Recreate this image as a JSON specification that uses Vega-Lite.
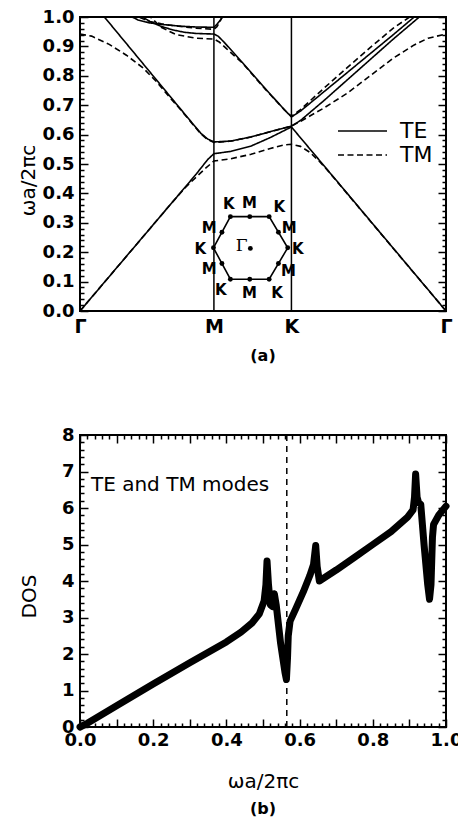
{
  "$schema": "https://vega.github.io/schema/vega-lite/v6.json",
  "padding": {"left": 17, "top": 7, "right": 0, "bottom": 0},
  "spacing": 60,
  "config": {
    "font": "DejaVu Sans",
    "view": {"stroke": "black", "strokeWidth": 2},
    "axis": {"grid": false, "labelFont": "DejaVu Sans", "labelFontWeight": "bold", "labelFontSize": 18, "labelColor": "black", "titleFont": "DejaVu Sans", "titleFontWeight": "normal", "titleFontSize": 20, "titleColor": "black", "labelFlush": false},
    "title": {"font": "DejaVu Sans", "fontWeight": "bold", "fontSize": 16, "color": "black"}
  },
  "vconcat": [
    {
      "width": 366, "height": 294,
      "title": {"text": "(a)", "orient": "bottom", "offset": 12},
      "layer": [
        {
          "encoding": {
            "x": {"field": "x", "type": "quantitative", "scale": {"domain": [0, 1.577], "nice": false, "zero": false},
              "axis": {"values": [0, 0.577, 0.911, 1.577], "labelExpr": "datum.value < 0.3 || datum.value > 1.5 ? 'Γ' : (datum.value < 0.7 ? 'M' : 'K')", "ticks": false, "domain": false, "title": null, "labelPadding": 6, "labelFontSize": 19}},
            "y": {"field": "y", "type": "quantitative", "scale": {"domain": [0, 1], "nice": false, "zero": false},
              "axis": {"values": [0,0.1,0.2,0.3,0.4,0.5,0.6,0.7,0.8,0.9,1], "format": ".1f", "ticks": false, "domain": false,
                "labelPadding": 6, "title": "ωa/2πc", "titleX": -52, "titleY": 163, "titleBaseline": "middle"}}
          },
          "layer": [
            {
              "data": {"values": [{"x": 0.577, "y": 0, "y2": 1}, {"x": 0.911, "y": 0, "y2": 1}]},
              "mark": {"type": "rule", "color": "black", "strokeWidth": 1.5},
              "encoding": {"y2": {"field": "y2"}}
            },
            {
              "data": {"values": [
                {"b": "te1", "m": "TE", "x": 0, "y": 0}, {"b": "te1", "m": "TE", "x": 0.5, "y": 0.465}, {"b": "te1", "m": "TE", "x": 0.55, "y": 0.515}, {"b": "te1", "m": "TE", "x": 0.577, "y": 0.535}, {"b": "te1", "m": "TE", "x": 0.65, "y": 0.543}, {"b": "te1", "m": "TE", "x": 0.737, "y": 0.561}, {"b": "te1", "m": "TE", "x": 0.82, "y": 0.59}, {"b": "te1", "m": "TE", "x": 0.911, "y": 0.626}, {"b": "te1", "m": "TE", "x": 1.577, "y": 0},
                {"b": "te2", "m": "TE", "x": 0.08, "y": 1.024}, {"b": "te2", "m": "TE", "x": 0.47, "y": 0.652}, {"b": "te2", "m": "TE", "x": 0.52, "y": 0.605}, {"b": "te2", "m": "TE", "x": 0.55, "y": 0.585}, {"b": "te2", "m": "TE", "x": 0.577, "y": 0.575}, {"b": "te2", "m": "TE", "x": 0.65, "y": 0.578}, {"b": "te2", "m": "TE", "x": 0.737, "y": 0.592}, {"b": "te2", "m": "TE", "x": 0.82, "y": 0.61}, {"b": "te2", "m": "TE", "x": 0.911, "y": 0.629}, {"b": "te2", "m": "TE", "x": 0.95, "y": 0.648}, {"b": "te2", "m": "TE", "x": 1.05, "y": 0.715}, {"b": "te2", "m": "TE", "x": 1.15, "y": 0.785}, {"b": "te2", "m": "TE", "x": 1.25, "y": 0.855}, {"b": "te2", "m": "TE", "x": 1.35, "y": 0.925}, {"b": "te2", "m": "TE", "x": 1.462, "y": 1.0}, {"b": "te2", "m": "TE", "x": 1.49, "y": 1.02},
                {"b": "te3", "m": "TE", "x": 0.25, "y": 1.01}, {"b": "te3", "m": "TE", "x": 0.3, "y": 0.985}, {"b": "te3", "m": "TE", "x": 0.35, "y": 0.968}, {"b": "te3", "m": "TE", "x": 0.4, "y": 0.956}, {"b": "te3", "m": "TE", "x": 0.45, "y": 0.948}, {"b": "te3", "m": "TE", "x": 0.5, "y": 0.944}, {"b": "te3", "m": "TE", "x": 0.577, "y": 0.942}, {"b": "te3", "m": "TE", "x": 0.595, "y": 0.935}, {"b": "te3", "m": "TE", "x": 0.62, "y": 0.915}, {"b": "te3", "m": "TE", "x": 0.7, "y": 0.845}, {"b": "te3", "m": "TE", "x": 0.8, "y": 0.755}, {"b": "te3", "m": "TE", "x": 0.88, "y": 0.685}, {"b": "te3", "m": "TE", "x": 0.911, "y": 0.66}, {"b": "te3", "m": "TE", "x": 0.95, "y": 0.68}, {"b": "te3", "m": "TE", "x": 1.05, "y": 0.745}, {"b": "te3", "m": "TE", "x": 1.15, "y": 0.81}, {"b": "te3", "m": "TE", "x": 1.25, "y": 0.875}, {"b": "te3", "m": "TE", "x": 1.35, "y": 0.94}, {"b": "te3", "m": "TE", "x": 1.44, "y": 1.0}, {"b": "te3", "m": "TE", "x": 1.47, "y": 1.02},
                {"b": "te4", "m": "TE", "x": 0.2, "y": 1.01}, {"b": "te4", "m": "TE", "x": 0.25, "y": 0.99}, {"b": "te4", "m": "TE", "x": 0.3, "y": 0.98}, {"b": "te4", "m": "TE", "x": 0.35, "y": 0.975}, {"b": "te4", "m": "TE", "x": 0.4, "y": 0.971}, {"b": "te4", "m": "TE", "x": 0.45, "y": 0.968}, {"b": "te4", "m": "TE", "x": 0.5, "y": 0.966}, {"b": "te4", "m": "TE", "x": 0.577, "y": 0.965}, {"b": "te4", "m": "TE", "x": 0.59, "y": 0.975}, {"b": "te4", "m": "TE", "x": 0.6, "y": 0.985}, {"b": "te4", "m": "TE", "x": 0.615, "y": 1.0}, {"b": "te4", "m": "TE", "x": 0.625, "y": 1.01},
                {"b": "tm1", "m": "TM", "x": 0, "y": 0}, {"b": "tm1", "m": "TM", "x": 0.4, "y": 0.372}, {"b": "tm1", "m": "TM", "x": 0.46, "y": 0.425}, {"b": "tm1", "m": "TM", "x": 0.5, "y": 0.455}, {"b": "tm1", "m": "TM", "x": 0.54, "y": 0.485}, {"b": "tm1", "m": "TM", "x": 0.577, "y": 0.51}, {"b": "tm1", "m": "TM", "x": 0.65, "y": 0.518}, {"b": "tm1", "m": "TM", "x": 0.737, "y": 0.533}, {"b": "tm1", "m": "TM", "x": 0.82, "y": 0.553}, {"b": "tm1", "m": "TM", "x": 0.88, "y": 0.565}, {"b": "tm1", "m": "TM", "x": 0.911, "y": 0.567}, {"b": "tm1", "m": "TM", "x": 0.95, "y": 0.56}, {"b": "tm1", "m": "TM", "x": 0.99, "y": 0.54}, {"b": "tm1", "m": "TM", "x": 1.03, "y": 0.51}, {"b": "tm1", "m": "TM", "x": 1.067, "y": 0.478}, {"b": "tm1", "m": "TM", "x": 1.577, "y": 0},
                {"b": "tm2", "m": "TM", "x": 0, "y": 0.942}, {"b": "tm2", "m": "TM", "x": 0.05, "y": 0.935}, {"b": "tm2", "m": "TM", "x": 0.126, "y": 0.907}, {"b": "tm2", "m": "TM", "x": 0.2, "y": 0.87}, {"b": "tm2", "m": "TM", "x": 0.27, "y": 0.828}, {"b": "tm2", "m": "TM", "x": 0.33, "y": 0.78}, {"b": "tm2", "m": "TM", "x": 0.385, "y": 0.728}, {"b": "tm2", "m": "TM", "x": 0.43, "y": 0.688}, {"b": "tm2", "m": "TM", "x": 0.47, "y": 0.65}, {"b": "tm2", "m": "TM", "x": 0.52, "y": 0.603}, {"b": "tm2", "m": "TM", "x": 0.55, "y": 0.583}, {"b": "tm2", "m": "TM", "x": 0.577, "y": 0.573}, {"b": "tm2", "m": "TM", "x": 0.65, "y": 0.578}, {"b": "tm2", "m": "TM", "x": 0.737, "y": 0.592}, {"b": "tm2", "m": "TM", "x": 0.82, "y": 0.61}, {"b": "tm2", "m": "TM", "x": 0.911, "y": 0.629}, {"b": "tm2", "m": "TM", "x": 0.95, "y": 0.645}, {"b": "tm2", "m": "TM", "x": 1.05, "y": 0.69}, {"b": "tm2", "m": "TM", "x": 1.15, "y": 0.74}, {"b": "tm2", "m": "TM", "x": 1.25, "y": 0.8}, {"b": "tm2", "m": "TM", "x": 1.35, "y": 0.86}, {"b": "tm2", "m": "TM", "x": 1.44, "y": 0.905}, {"b": "tm2", "m": "TM", "x": 1.5, "y": 0.928}, {"b": "tm2", "m": "TM", "x": 1.577, "y": 0.942},
                {"b": "tm3", "m": "TM", "x": 0.29, "y": 1.01}, {"b": "tm3", "m": "TM", "x": 0.35, "y": 0.965}, {"b": "tm3", "m": "TM", "x": 0.414, "y": 0.94}, {"b": "tm3", "m": "TM", "x": 0.5, "y": 0.928}, {"b": "tm3", "m": "TM", "x": 0.577, "y": 0.925}, {"b": "tm3", "m": "TM", "x": 0.6, "y": 0.915}, {"b": "tm3", "m": "TM", "x": 0.63, "y": 0.893}, {"b": "tm3", "m": "TM", "x": 0.7, "y": 0.843}, {"b": "tm3", "m": "TM", "x": 0.8, "y": 0.753}, {"b": "tm3", "m": "TM", "x": 0.88, "y": 0.685}, {"b": "tm3", "m": "TM", "x": 0.911, "y": 0.662}, {"b": "tm3", "m": "TM", "x": 0.95, "y": 0.685}, {"b": "tm3", "m": "TM", "x": 1.05, "y": 0.757}, {"b": "tm3", "m": "TM", "x": 1.15, "y": 0.827}, {"b": "tm3", "m": "TM", "x": 1.25, "y": 0.896}, {"b": "tm3", "m": "TM", "x": 1.35, "y": 0.962}, {"b": "tm3", "m": "TM", "x": 1.42, "y": 1.0}, {"b": "tm3", "m": "TM", "x": 1.45, "y": 1.02},
                {"b": "tm4", "m": "TM", "x": 0.22, "y": 1.01}, {"b": "tm4", "m": "TM", "x": 0.3, "y": 0.985}, {"b": "tm4", "m": "TM", "x": 0.35, "y": 0.977}, {"b": "tm4", "m": "TM", "x": 0.4, "y": 0.971}, {"b": "tm4", "m": "TM", "x": 0.45, "y": 0.966}, {"b": "tm4", "m": "TM", "x": 0.5, "y": 0.962}, {"b": "tm4", "m": "TM", "x": 0.577, "y": 0.958}, {"b": "tm4", "m": "TM", "x": 0.59, "y": 0.967}, {"b": "tm4", "m": "TM", "x": 0.6, "y": 0.98}, {"b": "tm4", "m": "TM", "x": 0.612, "y": 1.0}, {"b": "tm4", "m": "TM", "x": 0.62, "y": 1.01}
              ]},
              "mark": {"type": "line", "color": "black", "strokeWidth": 1.6, "clip": true},
              "encoding": {
                "detail": {"field": "b", "type": "nominal"},
                "strokeDash": {"field": "m", "type": "nominal", "scale": {"domain": ["TE", "TM"], "range": [[1, 0], [6, 3.5]]},
                  "legend": {"orient": "none", "legendX": 257, "legendY": 102, "title": null, "symbolType": "stroke", "symbolSize": 2400, "symbolStrokeWidth": 1.6, "symbolStrokeColor": "black", "labelFont": "DejaVu Sans", "labelFontSize": 22, "labelFontWeight": "normal", "labelColor": "black", "labelOffset": 12, "clipHeight": 24, "rowPadding": 0}}
              }
            },
            {
              "data": {"values": [
                {"o": 0, "x": 0.575, "y": 0.215}, {"o": 1, "x": 0.648, "y": 0.321}, {"o": 2, "x": 0.815, "y": 0.321}, {"o": 3, "x": 0.895, "y": 0.215}, {"o": 4, "x": 0.815, "y": 0.108}, {"o": 5, "x": 0.648, "y": 0.108}, {"o": 6, "x": 0.575, "y": 0.215}
              ]},
              "mark": {"type": "line", "color": "black", "strokeWidth": 1.6},
              "encoding": {"order": {"field": "o", "type": "quantitative"}}
            },
            {
              "data": {"values": [
                {"x": 0.575, "y": 0.215}, {"x": 0.648, "y": 0.321}, {"x": 0.815, "y": 0.321}, {"x": 0.895, "y": 0.215}, {"x": 0.815, "y": 0.108}, {"x": 0.648, "y": 0.108},
                {"x": 0.7315, "y": 0.321}, {"x": 0.7315, "y": 0.108}, {"x": 0.855, "y": 0.268}, {"x": 0.855, "y": 0.1615}, {"x": 0.6115, "y": 0.268}, {"x": 0.6115, "y": 0.1615},
                {"x": 0.734, "y": 0.213}
              ]},
              "mark": {"type": "point", "filled": true, "color": "black", "size": 24, "opacity": 1}
            },
            {
              "data": {"values": [
                {"t": "K", "x": 0.641, "y": 0.363}, {"t": "M", "x": 0.73, "y": 0.368}, {"t": "K", "x": 0.859, "y": 0.354}, {"t": "M", "x": 0.902, "y": 0.283}, {"t": "K", "x": 0.938, "y": 0.21}, {"t": "M", "x": 0.898, "y": 0.136},
                {"t": "K", "x": 0.849, "y": 0.062}, {"t": "M", "x": 0.73, "y": 0.062}, {"t": "K", "x": 0.607, "y": 0.073}, {"t": "M", "x": 0.557, "y": 0.142}, {"t": "K", "x": 0.518, "y": 0.21}, {"t": "M", "x": 0.557, "y": 0.283}
              ]},
              "mark": {"type": "text", "font": "DejaVu Sans", "fontWeight": "bold", "fontSize": 15, "color": "black", "baseline": "middle", "align": "center"},
              "encoding": {"text": {"field": "t"}}
            },
            {
              "data": {"values": [{"t": "Γ", "x": 0.697, "y": 0.22}]},
              "mark": {"type": "text", "font": "DejaVu Serif", "fontSize": 17, "color": "black", "baseline": "middle", "align": "center"},
              "encoding": {"text": {"field": "t"}}
            }
          ]
        },
        {
          "data": {"values": [{"y": 0}, {"y": 1}]},
          "mark": {"type": "point", "opacity": 0},
          "encoding": {
            "y": {"field": "y", "type": "quantitative", "scale": {"domain": [0, 1], "nice": false, "zero": false},
              "axis": {"orient": "right", "offset": -366, "labels": false, "title": null, "domain": false, "ticks": true, "tickColor": "black", "tickWidth": 1.5, "values": [0,0.02,0.04,0.06,0.08,0.1,0.12,0.14,0.16,0.18,0.2,0.22,0.24,0.26,0.28,0.3,0.32,0.34,0.36,0.38,0.4,0.42,0.44,0.46,0.48,0.5,0.52,0.54,0.56,0.58,0.6,0.62,0.64,0.66,0.68,0.7,0.72,0.74,0.76,0.78,0.8,0.82,0.84,0.86,0.88,0.9,0.92,0.94,0.96,0.98,1],
                "tickSize": {"condition": {"test": "abs(datum.value*10 - round(datum.value*10)) < 0.01", "value": 8}, "value": 4}}}
          }
        },
        {
          "data": {"values": [{"y": 0}, {"y": 1}]},
          "mark": {"type": "point", "opacity": 0},
          "encoding": {
            "y": {"field": "y", "type": "quantitative", "scale": {"domain": [0, 1], "nice": false, "zero": false},
              "axis": {"orient": "left", "offset": -366, "labels": false, "title": null, "domain": false, "ticks": true, "tickColor": "black", "tickWidth": 1.5, "values": [0,0.02,0.04,0.06,0.08,0.1,0.12,0.14,0.16,0.18,0.2,0.22,0.24,0.26,0.28,0.3,0.32,0.34,0.36,0.38,0.4,0.42,0.44,0.46,0.48,0.5,0.52,0.54,0.56,0.58,0.6,0.62,0.64,0.66,0.68,0.7,0.72,0.74,0.76,0.78,0.8,0.82,0.84,0.86,0.88,0.9,0.92,0.94,0.96,0.98,1],
                "tickSize": {"condition": {"test": "abs(datum.value*10 - round(datum.value*10)) < 0.01", "value": 8}, "value": 4}}}
          }
        }
      ],
      "resolve": {"axis": {"y": "independent"}}
    },
    {
      "width": 366, "height": 292,
      "title": {"text": "(b)", "orient": "bottom", "offset": 10},
      "layer": [
        {
          "encoding": {
            "x": {"field": "x", "type": "quantitative", "scale": {"domain": [0, 1], "nice": false, "zero": false},
              "axis": {"values": [0,0.2,0.4,0.6,0.8,1], "format": ".1f", "ticks": false, "domain": false,
                "labelPadding": 4, "title": "ωa/2πc", "titlePadding": 22}},
            "y": {"field": "y", "type": "quantitative", "scale": {"domain": [0, 8], "nice": false, "zero": false},
              "axis": {"values": [0,1,2,3,4,5,6,7,8], "format": "d", "ticks": false, "domain": false,
                "labelPadding": 6, "title": "DOS", "titleX": -51, "titleY": 161, "titleBaseline": "middle"}}
          },
          "layer": [
            {
              "data": {"values": [{"x": 0.565, "y": 0, "y2": 8}]},
              "mark": {"type": "rule", "color": "black", "strokeWidth": 1.5, "strokeDash": [6, 5]},
              "encoding": {"y2": {"field": "y2"}}
            },
            {
              "data": {"values": [
                {"x": 0, "y": 0}, {"x": 0.02, "y": 0.1}, {"x": 0.1, "y": 0.58}, {"x": 0.2, "y": 1.18}, {"x": 0.3, "y": 1.76}, {"x": 0.4, "y": 2.33}, {"x": 0.44, "y": 2.6}, {"x": 0.47, "y": 2.85}, {"x": 0.49, "y": 3.1}, {"x": 0.503, "y": 3.45}, {"x": 0.508, "y": 3.9}, {"x": 0.511, "y": 4.55}, {"x": 0.515, "y": 3.9}, {"x": 0.52, "y": 3.35}, {"x": 0.526, "y": 3.3}, {"x": 0.531, "y": 3.65}, {"x": 0.536, "y": 3.35}, {"x": 0.548, "y": 2.3}, {"x": 0.56, "y": 1.5}, {"x": 0.564, "y": 1.3}, {"x": 0.567, "y": 1.9}, {"x": 0.569, "y": 2.5}, {"x": 0.574, "y": 2.9}, {"x": 0.59, "y": 3.25}, {"x": 0.61, "y": 3.7}, {"x": 0.628, "y": 4.15}, {"x": 0.638, "y": 4.45}, {"x": 0.644, "y": 4.97}, {"x": 0.648, "y": 4.4}, {"x": 0.654, "y": 4.0}, {"x": 0.7, "y": 4.3}, {"x": 0.75, "y": 4.65}, {"x": 0.8, "y": 5.0}, {"x": 0.85, "y": 5.35}, {"x": 0.895, "y": 5.75}, {"x": 0.91, "y": 5.95}, {"x": 0.914, "y": 6.3}, {"x": 0.917, "y": 6.93}, {"x": 0.921, "y": 6.3}, {"x": 0.925, "y": 6.15}, {"x": 0.931, "y": 6.1}, {"x": 0.94, "y": 5.0}, {"x": 0.95, "y": 3.9}, {"x": 0.955, "y": 3.5}, {"x": 0.959, "y": 3.9}, {"x": 0.963, "y": 5.2}, {"x": 0.966, "y": 5.55}, {"x": 0.98, "y": 5.8}, {"x": 1.0, "y": 6.05}
              ]},
              "mark": {"type": "line", "color": "black", "strokeWidth": 7, "strokeJoin": "round", "strokeCap": "round"}
            },
            {
              "data": {"values": [{"t": "TE and TM modes", "x": 0.03, "y": 6.47}]},
              "mark": {"type": "text", "font": "DejaVu Sans", "fontSize": 20, "color": "black", "align": "left", "baseline": "alphabetic"},
              "encoding": {"text": {"field": "t"}}
            }
          ]
        },
        {
          "data": {"values": [{"x": 0, "y": 0}, {"x": 1, "y": 8}]},
          "mark": {"type": "point", "opacity": 0},
          "encoding": {
            "x": {"field": "x", "type": "quantitative", "scale": {"domain": [0, 1], "nice": false, "zero": false},
              "axis": {"orient": "top", "offset": -292, "labels": false, "title": null, "domain": false, "ticks": true, "tickColor": "black", "tickWidth": 1.5, "values": [0,0.02,0.04,0.06,0.08,0.1,0.12,0.14,0.16,0.18,0.2,0.22,0.24,0.26,0.28,0.3,0.32,0.34,0.36,0.38,0.4,0.42,0.44,0.46,0.48,0.5,0.52,0.54,0.56,0.58,0.6,0.62,0.64,0.66,0.68,0.7,0.72,0.74,0.76,0.78,0.8,0.82,0.84,0.86,0.88,0.9,0.92,0.94,0.96,0.98,1],
                "tickSize": {"condition": {"test": "abs(datum.value*10 - round(datum.value*10)) < 0.01", "value": 8}, "value": 4}}},
            "y": {"field": "y", "type": "quantitative", "scale": {"domain": [0, 8], "nice": false, "zero": false},
              "axis": {"orient": "right", "offset": -366, "labels": false, "title": null, "domain": false, "ticks": true, "tickColor": "black", "tickWidth": 1.5, "values": [0,0.2,0.4,0.6,0.8,1,1.2,1.4,1.6,1.8,2,2.2,2.4,2.6,2.8,3,3.2,3.4,3.6,3.8,4,4.2,4.4,4.6,4.8,5,5.2,5.4,5.6,5.8,6,6.2,6.4,6.6,6.8,7,7.2,7.4,7.6,7.8,8],
                "tickSize": {"condition": {"test": "abs(datum.value - round(datum.value)) < 0.01", "value": 8}, "value": 4}}}
          }
        },
        {
          "data": {"values": [{"x": 0, "y": 0}, {"x": 1, "y": 8}]},
          "mark": {"type": "point", "opacity": 0},
          "encoding": {
            "x": {"field": "x", "type": "quantitative", "scale": {"domain": [0, 1], "nice": false, "zero": false},
              "axis": {"orient": "bottom", "offset": -292, "labels": false, "title": null, "domain": false, "ticks": true, "tickColor": "black", "tickWidth": 1.5, "values": [0,0.02,0.04,0.06,0.08,0.1,0.12,0.14,0.16,0.18,0.2,0.22,0.24,0.26,0.28,0.3,0.32,0.34,0.36,0.38,0.4,0.42,0.44,0.46,0.48,0.5,0.52,0.54,0.56,0.58,0.6,0.62,0.64,0.66,0.68,0.7,0.72,0.74,0.76,0.78,0.8,0.82,0.84,0.86,0.88,0.9,0.92,0.94,0.96,0.98,1],
                "tickSize": {"condition": {"test": "abs(datum.value*10 - round(datum.value*10)) < 0.01", "value": 8}, "value": 4}}},
            "y": {"field": "y", "type": "quantitative", "scale": {"domain": [0, 8], "nice": false, "zero": false},
              "axis": {"orient": "left", "offset": -366, "labels": false, "title": null, "domain": false, "ticks": true, "tickColor": "black", "tickWidth": 1.5, "values": [0,0.2,0.4,0.6,0.8,1,1.2,1.4,1.6,1.8,2,2.2,2.4,2.6,2.8,3,3.2,3.4,3.6,3.8,4,4.2,4.4,4.6,4.8,5,5.2,5.4,5.6,5.8,6,6.2,6.4,6.6,6.8,7,7.2,7.4,7.6,7.8,8],
                "tickSize": {"condition": {"test": "abs(datum.value - round(datum.value)) < 0.01", "value": 8}, "value": 4}}}
          }
        }
      ],
      "resolve": {"axis": {"x": "independent", "y": "independent"}}
    }
  ]
}
